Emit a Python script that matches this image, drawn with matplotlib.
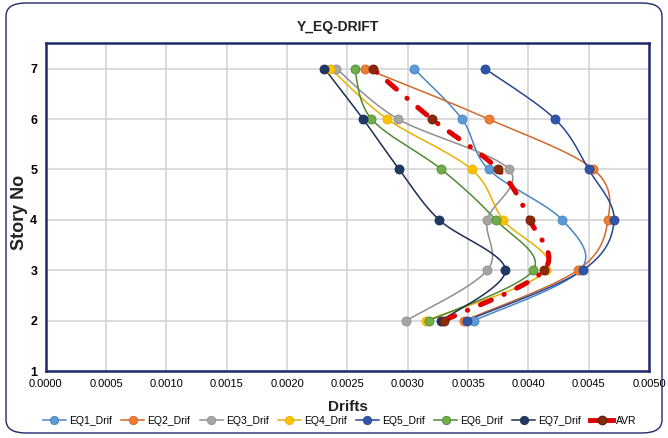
import numpy as np
import matplotlib
matplotlib.use("Agg")
import matplotlib.pyplot as plt
from matplotlib.patches import FancyBboxPatch
from matplotlib.lines import Line2D

plt.rcParams['font.family'] = ['Liberation Sans Narrow', 'Liberation Sans', 'DejaVu Sans']
plt.rcParams['lines.scale_dashes'] = False

# ---------------- data ----------------
stories = [2, 3, 4, 5, 6, 7]
series_names = ["EQ1_Drif", "EQ2_Drif", "EQ3_Drif", "EQ4_Drif", "EQ5_Drif", "EQ6_Drif", "EQ7_Drif", "AVR"]
eq1 = [0.00355, 0.00443, 0.00428, 0.00367, 0.00345, 0.00305]
eq2 = [0.00347, 0.00441, 0.00466, 0.00454, 0.00367, 0.00265]
eq3 = [0.00299, 0.00366, 0.00366, 0.00384, 0.00292, 0.00241]
eq4 = [0.00315, 0.00415, 0.00379, 0.00353, 0.00283, 0.00236]
eq5 = [0.00349, 0.00445, 0.00471, 0.00450, 0.00422, 0.00364]
eq6 = [0.00318, 0.00404, 0.00373, 0.00328, 0.00270, 0.00256]
eq7 = [0.00328, 0.00381, 0.00326, 0.00293, 0.00263, 0.00231]
avr = [0.00330, 0.00413, 0.00401, 0.00375, 0.00320, 0.00271]
x_ticks = [0.0000, 0.0005, 0.0010, 0.0015, 0.0020, 0.0025, 0.0030, 0.0035, 0.0040, 0.0045, 0.0050]
y_ticks = [1, 2, 3, 4, 5, 6, 7]

line_colors = ["#4A86C0", "#D0692A", "#8F8F8F", "#E8B100", "#2A4590", "#4F8A34", "#1C2E55"]
marker_colors = ["#5B9BD5", "#ED7D31", "#A5A5A5", "#FFC000", "#2E55A8", "#70AD47", "#203864"]

# ---------------- figure ----------------
W, H = 668, 438
fig = plt.figure(figsize=(W / 100, H / 100), dpi=100)

ax_l, ax_r, ax_t, ax_b = 45.7, 649, 43, 371
ax = fig.add_axes([ax_l / W, 1 - ax_b / H, (ax_r - ax_l) / W, (ax_b - ax_t) / H])
ax.set_xlim(0, 0.005)
ax.set_ylim(1, 7 + (371 - 43) / 50.4 - 6)

# rounded outer border
border = FancyBboxPatch((6 / W, 5 / H), (W - 12) / W, (H - 8) / H,
                        boxstyle="round,pad=0,rounding_size=0.03",
                        transform=fig.transFigure, fill=False,
                        edgecolor="#1F2A6B", linewidth=1.0, zorder=0)
fig.patches.append(border)

sx = (ax_r - ax_l) / 0.005
sy = 50.4


def smooth(xs, ys, n=30):
    # Excel-style smoothed line (Bezier through points, tension 1/6) in pixel space
    P = np.column_stack([np.asarray(xs) * sx, np.asarray(ys) * sy])
    m = len(P)
    out = []
    for i in range(m - 1):
        p0 = P[i - 1] if i > 0 else P[i]
        p1 = P[i]
        p2 = P[i + 1]
        p3 = P[i + 2] if i + 2 < m else P[i + 1]
        c1 = p1 + (p2 - p0) / 6.0
        c2 = p2 - (p3 - p1) / 6.0
        t = np.linspace(0, 1, n)[:, None]
        seg = ((1 - t) ** 3) * p1 + 3 * ((1 - t) ** 2) * t * c1 + 3 * (1 - t) * t ** 2 * c2 + t ** 3 * p2
        out.append(seg if i == 0 else seg[1:])
    out = np.vstack(out)
    return out[:, 0] / sx, out[:, 1] / sy


all_eq = [eq1, eq2, eq3, eq4, eq5, eq6, eq7]
handles = []
for k, vals in enumerate(all_eq):
    cx, cy = smooth(vals, stories)
    ax.plot(cx, cy, color=line_colors[k], lw=1.1, zorder=3)
    ax.plot(vals, stories, ls="none", marker="o", ms=6.5, mfc=marker_colors[k],
            mec=line_colors[k], mew=0.6, zorder=4)
    handles.append(Line2D([0], [0], color=line_colors[k], lw=1.1, marker="o", ms=6,
                          mfc=marker_colors[k], mec=line_colors[k], mew=0.6))

# AVR
cx, cy = smooth(avr, stories)
ax.plot(cx, cy, color="#E00000", lw=3.6, dashes=(8.5, 10, 0.2, 10), dash_capstyle="round",
        zorder=5)
ax.plot(avr, stories, ls="none", marker="o", ms=6.5, mfc="#8B2A0A", mec="#6A1E06",
        mew=0.6, zorder=6)
handles.append(Line2D([0, 1], [0, 0], color="#E00000", lw=3.5, marker="o", ms=6,
                      mfc="#8B2A0A", mec="#6A1E06", markevery=[1]))

# axes styling
ax.set_xticks(x_ticks)
ax.set_xticklabels([f"{v:.4f}" for v in x_ticks], fontsize=8)
ax.set_yticks(y_ticks)
ax.set_yticklabels([str(v) for v in y_ticks], fontsize=9, fontweight="bold")
ax.tick_params(length=0, pad=6)
ax.grid(True, color="#D4D4D4", lw=1.2)
ax.set_axisbelow(True)
for sp in ax.spines.values():
    sp.set_color("#1F2A6B")
    sp.set_linewidth(1.8)

fig.text(338 / W, 1 - 27 / H, "Y_EQ-DRIFT", ha="center", va="center",
         fontsize=10, fontweight="bold", color="#222222")
fig.text(20 / W, 1 - 212 / H, "Story No", ha="center", va="center", rotation=90,
         fontsize=13, fontweight="bold", color="#222222")
fig.text(348 / W, 1 - 407 / H, "Drifts", ha="center", va="center",
         fontsize=11, fontweight="bold", color="#222222")

leg = fig.legend(handles, series_names, loc="center", bbox_to_anchor=(340 / W, 1 - 421 / H),
                 ncol=8, frameon=False, fontsize=7.5, handlelength=2.2, handletextpad=0.3,
                 columnspacing=0.9, borderaxespad=0)

fig.savefig("out.png", dpi=100)
